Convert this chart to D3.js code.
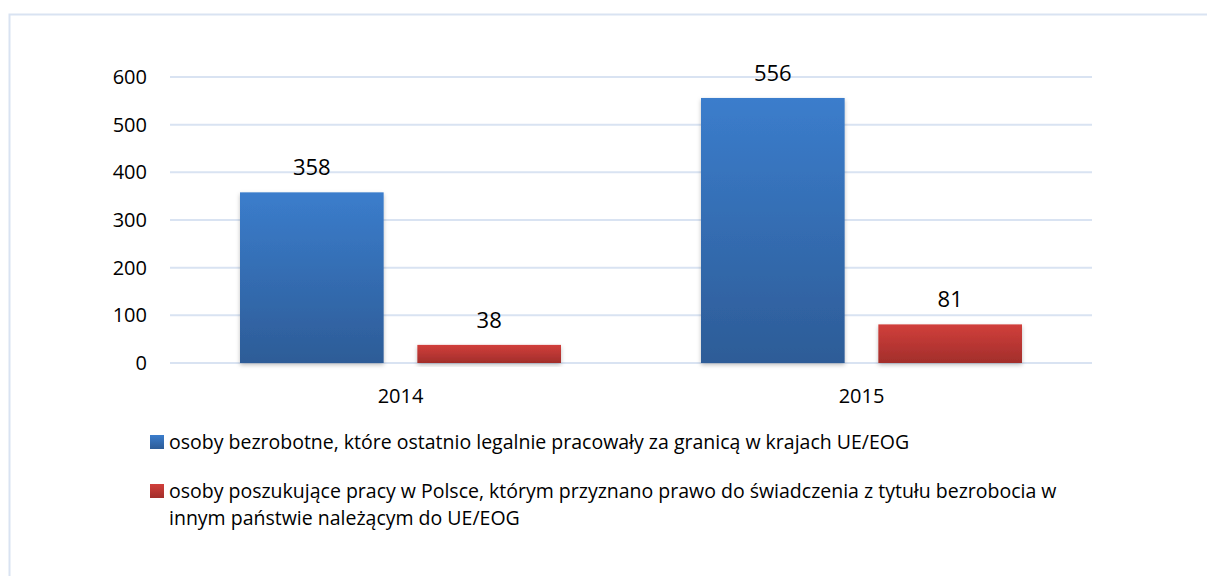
<!DOCTYPE html>
<html>
<head>
<meta charset="utf-8">
<script src="https://cdn.jsdelivr.net/npm/d3@7"></script>
<style>
  body { margin: 0; background: #fff; }
  svg { display: block; font-family: "Open Sans", "Noto Sans", sans-serif; }
</style>
</head>
<body>
<svg id="chart" width="1207" height="576"></svg>
<script>
const years = ["2014", "2015"];
const seriesNames = [
    "osoby bezrobotne, które ostatnio legalnie pracowały za granicą w krajach UE/EOG",
    "osoby poszukujące pracy w Polsce, którym przyznano prawo do świadczenia z tytułu bezrobocia w|innym państwie należącym do UE/EOG"
];
const unemployedAbroad = [358, 556];
const jobSeekersPL = [38, 81];
const yTicks = [0, 100, 200, 300, 400, 500, 600];

const margin = {left: 170, right: 115, top: 77, bottom: 213};
const width = 1207, height = 576;

const svg = d3.select('#chart');

// gradients for the bars
const defs = svg.append('defs');
const grads = [
    {id: 'gBlue', top: '#3b7dcc', bottom: '#2d5c97'},
    {id: 'gRed', top: '#d13f3b', bottom: '#a22e2b'}
];
grads.forEach(g => {
    const lg = defs.append('linearGradient').attr('id', g.id)
        .attr('x1', 0).attr('y1', 0).attr('x2', 0).attr('y2', 1);
    lg.append('stop').attr('offset', '0%').attr('stop-color', g.top);
    lg.append('stop').attr('offset', '100%').attr('stop-color', g.bottom);
});
const shadow = defs.append('filter').attr('id', 'shadow')
    .attr('x', '-10%').attr('y', '-10%').attr('width', '120%').attr('height', '130%');
shadow.append('feDropShadow').attr('dx', 0).attr('dy', 2).attr('stdDeviation', 2)
    .attr('flood-color', '#000').attr('flood-opacity', 0.25);

// outer frame (runs past the right and bottom edges like in the source)
svg.append('rect')
    .attr('x', 9.5).attr('y', 14.5)
    .attr('width', 1220).attr('height', 600)
    .style('fill', 'none')
    .style('stroke', '#d9e3f2')
    .style('stroke-width', 2);

// scales in page coordinates
const yScale = d3.scaleLinear().domain([0, 600]).range([height - margin.bottom, margin.top]);
const xScale = d3.scaleBand().domain(years).range([margin.left, width - margin.right]);
const xInner = d3.scaleBand().domain([0, 1]).range([70, xScale.bandwidth() - 70]).paddingInner(0.19);

// gridlines
svg.selectAll('.grid')
    .data(yTicks)
    .join('line')
    .classed('grid', true)
    .attr('x1', margin.left).attr('x2', width - margin.right)
    .attr('y1', d => yScale(d)).attr('y2', d => yScale(d))
    .style('stroke', '#d9e3f2')
    .style('stroke-width', 2);

// y tick labels
svg.selectAll('.yLabel')
    .data(yTicks)
    .join('text')
    .classed('yLabel', true)
    .attr('x', margin.left - 23)
    .attr('y', d => yScale(d))
    .attr('dy', '0.35em')
    .style('text-anchor', 'end')
    .style('font-size', '20px')
    .style('fill', '#000')
    .text(d => d);

// category labels
svg.selectAll('.xLabel')
    .data(years)
    .join('text')
    .classed('xLabel', true)
    .attr('x', d => xScale(d) + xScale.bandwidth() / 2)
    .attr('y', yScale(0) + 33)
    .attr('dy', '0.35em')
    .style('text-anchor', 'middle')
    .style('font-size', '20px')
    .style('fill', '#000')
    .text(d => d);

const series = [
    {values: unemployedAbroad, fill: 'url(#gBlue)'},
    {values: jobSeekersPL, fill: 'url(#gRed)'}
];

series.forEach((s, si) => {
    const grp = svg.append('g');
    const rows = years.map((y, i) => ({year: y, value: s.values[i]}));
    grp.selectAll('rect')
        .data(rows)
        .join('rect')
        .attr('x', d => xScale(d.year) + xInner(si))
        .attr('y', d => yScale(d.value))
        .attr('width', xInner.bandwidth())
        .attr('height', d => yScale(0) - yScale(d.value))
        .style('fill', s.fill)
        .attr('filter', 'url(#shadow)');

    grp.selectAll('text')
        .data(rows)
        .join('text')
        .attr('x', d => xScale(d.year) + xInner(si) + xInner.bandwidth() / 2)
        .attr('y', d => yScale(d.value) - 17)
        .style('text-anchor', 'middle')
        .style('font-size', '22px')
        .style('fill', '#000')
        .text(d => d.value);
});

// legend (wrapped entry kept in one text element with tspans)
const legendColors = ['url(#gBlue)', 'url(#gRed)'];
const legendY = [442, 491];
seriesNames.forEach((name, i) => {
    svg.append('rect')
        .attr('x', 150).attr('y', legendY[i] - 7)
        .attr('width', 14).attr('height', 14)
        .style('fill', legendColors[i]);
    const t = svg.append('text')
        .attr('y', legendY[i])
        .style('font-size', '19.5px')
        .style('fill', '#000');
    name.split('|').forEach((line, j) => {
        t.append('tspan')
            .attr('x', 169)
            .attr('dy', j === 0 ? '0.35em' : 27)
            .text(line);
    });
});
</script>
</body>
</html>
